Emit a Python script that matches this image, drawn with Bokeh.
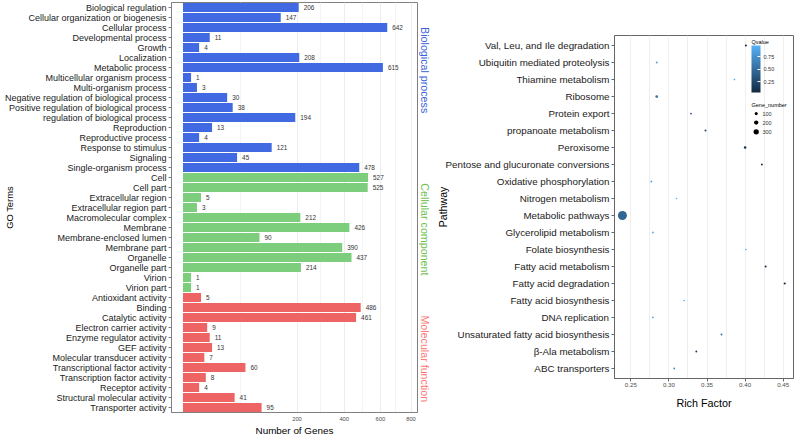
import numpy as np
from bokeh.plotting import figure
from bokeh.layouts import row, column
from bokeh.models import (ColumnDataSource, FactorRange, Range1d, FixedTicker,
                          CustomJSTickFormatter, NumeralTickFormatter, Label,
                          LinearColorMapper, ColorBar, Spacer)
from bokeh.transform import factor_cmap, transform
from bokeh.core.properties import value
from bokeh.embed import file_html
from bokeh.resources import INLINE

FONT = "Liberation Sans"

# ---------------- GO data (top to bottom) ----------------
bp_terms = ["Biological regulation", "Cellular organization or biogenesis", "Cellular process",
            "Developmental process", "Growth", "Localization", "Metabolic process",
            "Multicellular organism process", "Multi-organism process",
            "Negative regulation of biological process", "Positive regulation of biological process",
            "regulation of biological process", "Reproduction", "Reproductive process",
            "Response to stimulus", "Signaling", "Single-organism process"]
bp_counts = [206, 147, 642, 11, 4, 208, 615, 1, 3, 30, 38, 194, 13, 4, 121, 45, 478]

cc_terms = ["Cell", "Cell part", "Extracellular region", "Extracellular region part",
            "Macromolecular complex", "Membrane", "Membrane-enclosed lumen", "Membrane part",
            "Organelle", "Organelle part", "Virion", "Virion part"]
cc_counts = [527, 525, 5, 3, 212, 426, 90, 390, 437, 214, 1, 1]

mf_terms = ["Antioxidant activity", "Binding", "Catalytic activity", "Electron carrier activity",
            "Enzyme regulator activity", "GEF activity", "Molecular transducer activity",
            "Transcriptional factor activity", "Transcription factor activity",
            "Receptor activity", "Structural molecular activity", "Transporter activity"]
mf_counts = [5, 486, 461, 9, 11, 13, 7, 60, 8, 4, 41, 95]

go_groups = ["Biological process", "Cellular component", "Molecular function"]
go_colors = ["#4169E1", "#7CCD7C", "#EE6363"]
strip_colors = ["#3B62D6", "#6CC04A", "#FF7676"]
gene_ticks = [200, 400, 600, 800]

# ---------------- KEGG data (top to bottom) ----------------
pathways = ["Val, Leu, and Ile degradation", "Ubiquitin mediated proteolysis", "Thiamine metabolism",
            "Ribosome", "Protein export", "propanoate metabolism", "Peroxisome",
            "Pentose and glucuronate conversions", "Oxidative phosphorylation",
            "Nitrogen metabolism", "Metabolic pathways", "Glycerolipid metabolism",
            "Folate biosynthesis", "Fatty acid metabolism", "Fatty acid degradation",
            "Fatty acid biosynthesis", "DNA replication", "Unsaturated fatty acid biosynthesis",
            "\u03b2-Ala metabolism", "ABC transporters"]
rich_factor = [0.401, 0.284, 0.386, 0.284, 0.329, 0.348, 0.400, 0.422, 0.277, 0.310,
               0.239, 0.279, 0.401, 0.427, 0.452, 0.320, 0.279, 0.369, 0.336, 0.307]
q_value = [0.06, 0.85, 0.90, 0.55, 0.30, 0.22, 0.10, 0.08, 0.88, 0.95,
           0.45, 0.90, 0.97, 0.04, 0.035, 0.92, 0.88, 0.50, 0.15, 0.65]
gene_number = [45, 38, 30, 80, 32, 42, 70, 40, 36, 28,
               860, 34, 30, 44, 48, 26, 32, 36, 40, 34]
size_breaks = [100, 200, 300]
q_breaks = [0.25, 0.50, 0.75]
rich_ticks = [0.25, 0.30, 0.35, 0.40, 0.45]

# ======================= Left panel: GO bar chart =======================
terms = bp_terms + cc_terms + mf_terms
counts = bp_counts + cc_counts + mf_counts
groups = ([go_groups[0]] * len(bp_terms) + [go_groups[1]] * len(cc_terms)
          + [go_groups[2]] * len(mf_terms))

src1 = ColumnDataSource(dict(term=terms, count=counts, sq=np.sqrt(counts),
                             group=groups, lab=[str(c) for c in counts]))

X1_LO, X1_HI = -1.427, 29.09
W1, H1 = 418, 438
MBL1, MBR1, MBT1, MBB1 = 171, 1, 2, 24
FW1, FH1 = W1 - MBL1 - MBR1, H1 - MBT1 - MBB1
N1 = len(terms)

def y1(py):
    return N1 - py * N1 / FH1

p1 = figure(width=W1, height=H1, title=None,
            y_range=FactorRange(factors=terms[::-1]),
            x_range=Range1d(X1_LO, X1_HI),
            output_backend="svg", toolbar_location=None,
            min_border_left=MBL1, min_border_right=MBR1,
            min_border_top=MBT1, min_border_bottom=MBB1)

p1.hbar(y="term", left=0, right="sq", height=0.9, source=src1, line_color=None,
        fill_color=factor_cmap("group", palette=go_colors, factors=go_groups))
p1.text(x="sq", y="term", text="lab", source=src1, x_offset=5,
        text_baseline="middle", text_align="left", text_font_size="6.4px",
        text_color="#333333", text_font=value(FONT))

p1.outline_line_color = "#808080"
p1.ygrid.grid_line_color = None
major1 = list(np.sqrt(gene_ticks))
minor1 = [np.sqrt(200) / 2, (np.sqrt(200) + np.sqrt(400)) / 2,
          (np.sqrt(400) + np.sqrt(600)) / 2, (np.sqrt(600) + np.sqrt(800)) / 2]
p1.xgrid.ticker = FixedTicker(ticks=major1, minor_ticks=minor1)
p1.xgrid.grid_line_color = "#EDEDED"
p1.xgrid.minor_grid_line_color = "#F4F4F4"

p1.xaxis.ticker = FixedTicker(ticks=major1)
p1.xaxis.formatter = CustomJSTickFormatter(code="return Math.round(tick*tick).toString();")
p1.xaxis.major_label_text_font_size = "5.8px"
p1.xaxis.major_label_text_color = "#4D4D4D"
p1.xaxis.major_label_text_font = FONT
p1.xaxis.major_tick_out = 0
p1.xaxis.major_tick_in = 0
p1.xaxis.minor_tick_line_color = None
p1.xaxis.major_label_standoff = 4
p1.xaxis.axis_line_color = "#808080"
p1.xaxis.axis_label = "Number of Genes"
p1.xaxis.axis_label_text_font = FONT
p1.xaxis.axis_label_text_font_size = "9.9px"
p1.xaxis.axis_label_text_font_style = "normal"
p1.xaxis.axis_label_text_color = "#000000"
p1.xaxis.axis_label_standoff = 1

p1.yaxis.major_label_text_font_size = "9px"
p1.yaxis.major_label_text_font = FONT
p1.yaxis.major_label_text_color = "#1A1A1A"
p1.yaxis.major_tick_out = 3
p1.yaxis.major_tick_in = 0
p1.yaxis.major_tick_line_color = "#808080"
p1.yaxis.major_label_standoff = 2
p1.yaxis.axis_line_color = "#808080"
p1.yaxis.axis_label = "GO Terms"
p1.yaxis.axis_label_text_font = FONT
p1.yaxis.axis_label_text_font_size = "9.4px"
p1.yaxis.axis_label_text_font_style = "normal"
p1.yaxis.axis_label_text_color = "#000000"
p1.yaxis.axis_label_standoff = -13

# facet strip labels in a narrow companion plot sharing the y range
W_STRIP = 13
ps = figure(width=W_STRIP, height=H1, title=None, y_range=p1.y_range,
            x_range=Range1d(0, W_STRIP), x_axis_type=None, y_axis_type=None,
            output_backend="svg", toolbar_location=None,
            min_border_left=0, min_border_right=0,
            min_border_top=MBT1, min_border_bottom=MBB1)
ps.outline_line_color = None
ps.grid.grid_line_color = None
strip_src = ColumnDataSource(dict(x=[W_STRIP / 2] * 3, y=[y1(68), y1(228), y1(358)],
                                  text=go_groups, color=strip_colors))
ps.text(x="x", y="y", text="text", source=strip_src, angle=-np.pi / 2,
        text_align="center", text_baseline="middle", text_color="color",
        text_font_size="10.7px", text_font=value(FONT))

# ======================= Right panel: KEGG bubble chart =======================
def make_palette(c0, c1, n=256):
    a = np.array([int(c0[i:i + 2], 16) for i in (1, 3, 5)], dtype=float)
    b = np.array([int(c1[i:i + 2], 16) for i in (1, 3, 5)], dtype=float)
    out = []
    for t in np.linspace(0, 1, n):
        r, g, bb = (a + (b - a) * t).round().astype(int)
        out.append("#%02x%02x%02x" % (r, g, bb))
    return out

palette = make_palette("#132B43", "#56B1F7")
mapper = LinearColorMapper(palette=palette, low=min(q_value), high=max(q_value))

SIZE_K = 0.306
src2 = ColumnDataSource(dict(pathway=pathways, rich=rich_factor, q=q_value,
                             genes=gene_number,
                             size=SIZE_K * np.sqrt(np.array(gene_number, dtype=float))))

TOP2 = 33
X2_LO, X2_HI = 0.2286, 0.4635
W2, H2 = 363, 404
MBL2, MBR2, MBT2, MBB2 = 183, 1, 2, 59
FW2, FH2 = W2 - MBL2 - MBR2, H2 - MBT2 - MBB2
N2 = len(pathways)
PAD2 = 0.045

def x2(px):
    return X2_LO + px * (X2_HI - X2_LO) / FW2

def y2(py):
    return (N2 + PAD2) - py * (N2 + 2 * PAD2) / FH2

p2 = figure(width=W2, height=H2, title=None,
            y_range=FactorRange(factors=pathways[::-1], range_padding=2 * PAD2,
                                range_padding_units="absolute"),
            x_range=Range1d(X2_LO, X2_HI),
            output_backend="svg", toolbar_location=None,
            min_border_left=MBL2, min_border_right=MBR2,
            min_border_top=MBT2, min_border_bottom=MBB2)

p2.scatter(x="rich", y="pathway", size="size", source=src2, line_color=None,
           fill_color=transform("q", mapper))

p2.outline_line_color = "#666666"
p2.ygrid.grid_line_color = None
p2.xgrid.ticker = FixedTicker(ticks=rich_ticks,
                              minor_ticks=[0.275, 0.325, 0.375, 0.425])
p2.xgrid.grid_line_color = "#F0F0F0"
p2.xgrid.minor_grid_line_color = "#EEEEEE"

p2.xaxis.ticker = FixedTicker(ticks=rich_ticks)
p2.xaxis.formatter = NumeralTickFormatter(format="0.00")
p2.xaxis.major_label_text_font_size = "6.2px"
p2.xaxis.major_label_text_color = "#4D4D4D"
p2.xaxis.major_label_text_font = FONT
p2.xaxis.major_tick_out = 3
p2.xaxis.major_tick_in = 0
p2.xaxis.major_tick_line_color = "#666666"
p2.xaxis.minor_tick_line_color = None
p2.xaxis.major_label_standoff = 1
p2.xaxis.axis_line_color = "#666666"
p2.xaxis.axis_label = "Rich Factor"
p2.xaxis.axis_label_text_font = FONT
p2.xaxis.axis_label_text_font_size = "10.8px"
p2.xaxis.axis_label_text_font_style = "normal"
p2.xaxis.axis_label_text_color = "#000000"
p2.xaxis.axis_label_standoff = 7

p2.yaxis.major_label_text_font_size = "9.8px"
p2.yaxis.major_label_text_font = FONT
p2.yaxis.major_label_text_color = "#1A1A1A"
p2.yaxis.major_tick_out = 3
p2.yaxis.major_tick_in = 0
p2.yaxis.major_tick_line_color = "#666666"
p2.yaxis.major_label_standoff = 2
p2.yaxis.axis_line_color = "#666666"
p2.yaxis.axis_label = "Pathway"
p2.yaxis.axis_label_text_font = FONT
p2.yaxis.axis_label_text_font_size = "10.6px"
p2.yaxis.axis_label_text_font_style = "normal"
p2.yaxis.axis_label_text_color = "#000000"
p2.yaxis.axis_label_standoff = -6

# Qvalue colour bar
cb = ColorBar(color_mapper=mapper, ticker=FixedTicker(ticks=q_breaks),
              formatter=NumeralTickFormatter(format="0.00"),
              width=9, height=47, padding=0, margin=0, title=None,
              major_label_text_font_size="5.5px", major_label_text_font=FONT,
              major_label_text_color="#333333", label_standoff=3,
              major_tick_line_color="white", major_tick_in=3, major_tick_out=0,
              bar_line_color=None, border_line_color=None,
              background_fill_alpha=0, location=(137, 286))
p2.add_layout(cb)
p2.add_layout(Label(x=x2(137), y=y2(6), text="Qvalue", text_align="left",
                    text_baseline="middle", text_font=FONT,
                    text_font_size="5.5px", text_color="#000000"))

# Gene_number size legend
p2.add_layout(Label(x=x2(137), y=y2(68.7), text="Gene_number",
                    text_align="left", text_baseline="middle",
                    text_font=FONT, text_font_size="5.5px", text_color="#000000"))
leg_y = [y2(77.7), y2(86.7), y2(96)]
leg_src = ColumnDataSource(dict(x=[x2(141.7)] * len(size_breaks), y=leg_y,
                                size=SIZE_K * np.sqrt(np.array(size_breaks, dtype=float))))
p2.scatter(x="x", y="y", size="size", source=leg_src, fill_color="black", line_color=None)
for b, yy in zip(size_breaks, leg_y):
    p2.add_layout(Label(x=x2(148), y=yy, text=str(b), text_align="left",
                        text_baseline="middle", text_font=FONT,
                        text_font_size="5.5px", text_color="#333333"))

layout = row(p1, ps, column(Spacer(width=W2, height=TOP2), p2))
open("out.html", "w").write(file_html(layout, INLINE))
